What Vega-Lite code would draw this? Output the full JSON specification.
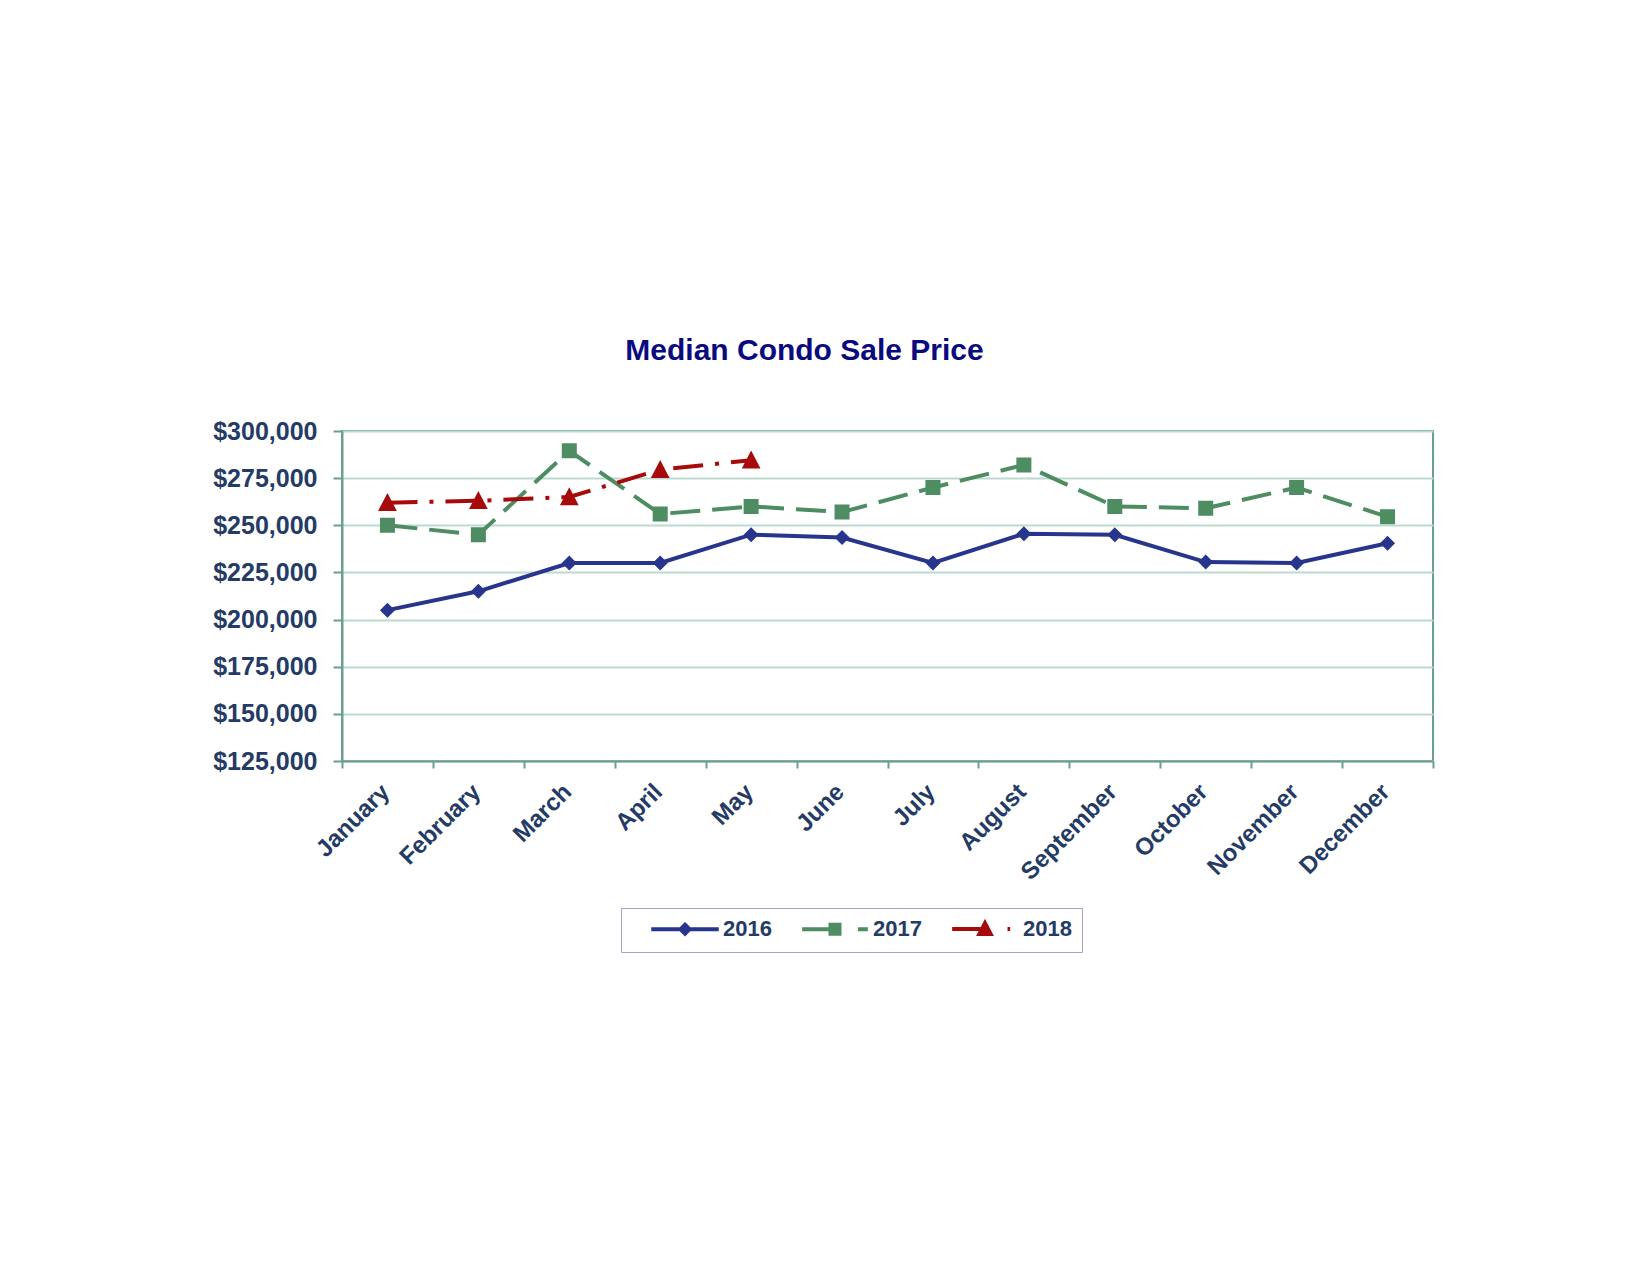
{
  "$schema": "https://vega.github.io/schema/vega-lite/v6.json",
  "width": 1091,
  "height": 330,
  "autosize": {"type": "none"},
  "padding": {"left": 342, "top": 431, "right": 217, "bottom": 514},
  "background": "white",
  "title": {
    "text": "Median Condo Sale Price",
    "font": "Liberation Sans",
    "fontSize": 30,
    "fontWeight": "bold",
    "color": "#0A0A80",
    "anchor": "middle",
    "dx": -83,
    "baseline": "bottom",
    "offset": 23
  },
  "data": {
    "values": [
      {"month": "January", "year": "2016", "price": 205000},
      {"month": "February", "year": "2016", "price": 215000},
      {"month": "March", "year": "2016", "price": 230000},
      {"month": "April", "year": "2016", "price": 230000},
      {"month": "May", "year": "2016", "price": 245000},
      {"month": "June", "year": "2016", "price": 243500},
      {"month": "July", "year": "2016", "price": 230000},
      {"month": "August", "year": "2016", "price": 245500},
      {"month": "September", "year": "2016", "price": 245000},
      {"month": "October", "year": "2016", "price": 230500},
      {"month": "November", "year": "2016", "price": 230000},
      {"month": "December", "year": "2016", "price": 240500},
      {"month": "January", "year": "2017", "price": 250000},
      {"month": "February", "year": "2017", "price": 245000},
      {"month": "March", "year": "2017", "price": 289500},
      {"month": "April", "year": "2017", "price": 256000},
      {"month": "May", "year": "2017", "price": 260000},
      {"month": "June", "year": "2017", "price": 257000},
      {"month": "July", "year": "2017", "price": 270000},
      {"month": "August", "year": "2017", "price": 282000},
      {"month": "September", "year": "2017", "price": 260000},
      {"month": "October", "year": "2017", "price": 259000},
      {"month": "November", "year": "2017", "price": 270000},
      {"month": "December", "year": "2017", "price": 254500},
      {"month": "January", "year": "2018", "price": 262000},
      {"month": "February", "year": "2018", "price": 263000},
      {"month": "March", "year": "2018", "price": 265000},
      {"month": "April", "year": "2018", "price": 279500},
      {"month": "May", "year": "2018", "price": 284500}
    ]
  },
  "encoding": {
    "x": {
      "field": "month",
      "type": "nominal",
      "sort": ["January", "February", "March", "April", "May", "June", "July", "August", "September", "October", "November", "December"],
      "scale": {"type": "band", "paddingInner": 0, "paddingOuter": 0},
      "axis": {
        "title": null,
        "labelAngle": -45,
        "labelAlign": "right",
        "labelBaseline": "middle",
        "labelFontSize": 24,
        "tickSize": 7,
        "labelPadding": 20,
        "labelOffset": -2,
        "tickBand": "extent",
        "grid": false
      }
    },
    "y": {
      "field": "price",
      "type": "quantitative",
      "scale": {"domain": [125000, 300000], "nice": false, "zero": false},
      "axis": {
        "title": null,
        "values": [125000, 150000, 175000, 200000, 225000, 250000, 275000, 300000],
        "format": "$,.0f",
        "labelFontSize": 25,
        "tickSize": 9,
        "labelPadding": 16,
        "grid": true,
        "gridColor": "#BCDAD0",
        "gridWidth": 2
      }
    }
  },
  "layer": [
    {
      "transform": [{"filter": "datum.year == '2016'"}],
      "mark": {"type": "line", "color": "#27358D", "strokeWidth": 4}
    },
    {
      "transform": [{"filter": "datum.year == '2017'"}],
      "mark": {"type": "line", "color": "#4E8C62", "strokeWidth": 4, "strokeDash": [30, 12]}
    },
    {
      "transform": [{"filter": "datum.year == '2018'"}],
      "mark": {"type": "line", "color": "#A60A0A", "strokeWidth": 4, "strokeDash": [30, 12, 4, 12]}
    },
    {
      "mark": {"type": "point", "filled": true, "opacity": 1, "size": 225, "strokeWidth": 0},
      "encoding": {
        "fill": {
          "field": "year",
          "type": "nominal",
          "scale": {"domain": ["2016", "2017", "2018"], "range": ["#27358D", "#4E8C62", "#A60A0A"]},
          "legend": {
            "orient": "none",
            "legendX": 279,
            "legendY": 477,
            "direction": "horizontal",
            "columns": 3,
            "title": null,
            "padding": 10,
            "strokeColor": "#A3A3CF",
            "fillColor": "white",
            "symbolSize": 81,
            "symbolStrokeWidth": 4,
            "symbolOffset": 43,
            "labelOffset": 27,
            "columnPadding": 9,
            "labelFont": "Liberation Sans",
            "labelFontSize": 22,
            "labelFontWeight": "bold",
            "labelColor": "#243B66"
          }
        },
        "stroke": {
          "field": "year",
          "type": "nominal",
          "scale": {"domain": ["2016", "2017", "2018"], "range": ["#27358D", "#4E8C62", "#A60A0A"]}
        },
        "shape": {
          "field": "year",
          "type": "nominal",
          "scale": {
            "domain": ["2016", "2017", "2018"],
            "range": [
              "M-7.5,0H7.5M0,-1L1,0L0,1L-1,0Z",
              "M-7.3,0H0M5.1,0H7.3M-1,-1H1V1H-1Z",
              "M-7.3,0H0M5.0,0H5.6M0,-1.3L1.25,1.1L-1.25,1.1Z"
            ]
          }
        }
      }
    }
  ],
  "config": {
    "view": {"stroke": "#6A9E90", "strokeWidth": 2},
    "axis": {
      "labelFont": "Liberation Sans",
      "labelFontWeight": "bold",
      "labelColor": "#243B66",
      "domainColor": "#6A9E90",
      "domainWidth": 2,
      "tickColor": "#6A9E90",
      "tickWidth": 2
    }
  }
}
